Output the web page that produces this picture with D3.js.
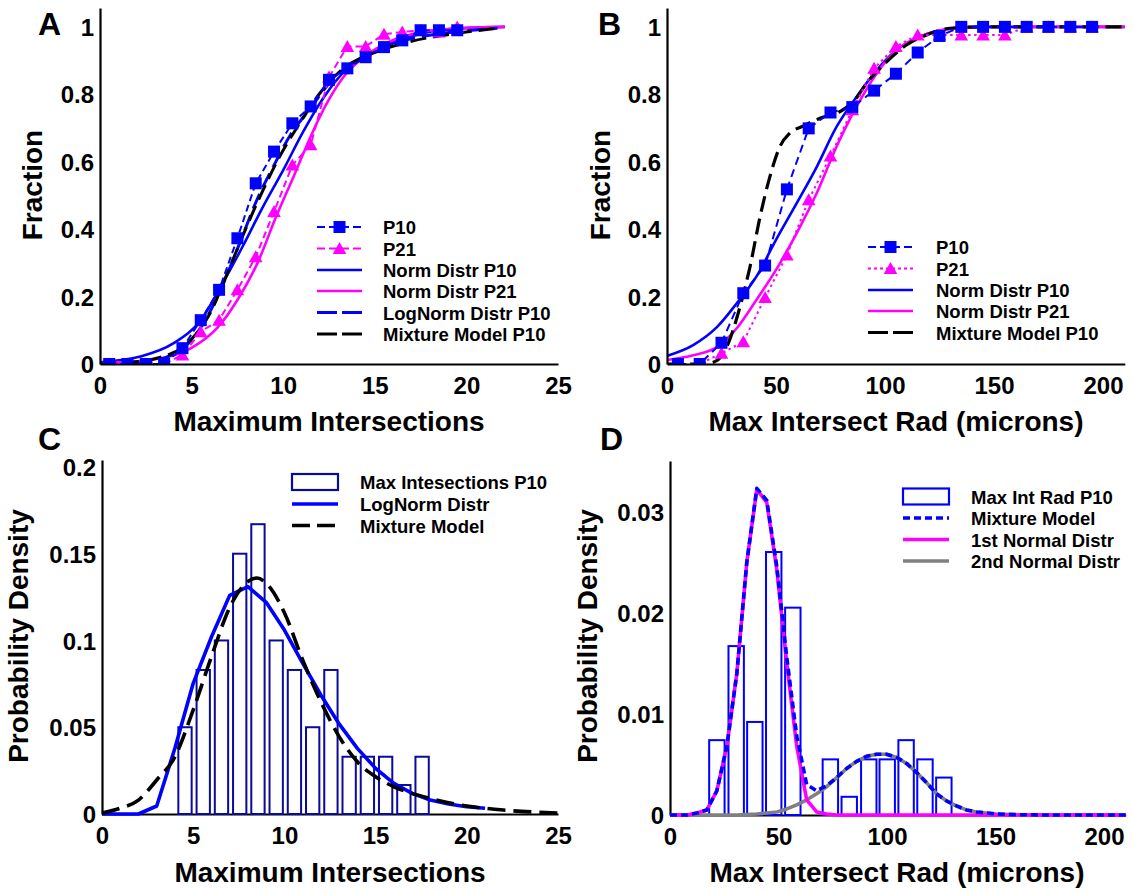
<!DOCTYPE html>
<html><head><meta charset="utf-8">
<script src="https://cdn.jsdelivr.net/npm/d3@7"></script>
<style>
body{margin:0;background:#fff}
text{font-family:"Liberation Sans",Arial,sans-serif;font-weight:bold;fill:#000}
</style>
</head><body>
<svg id="c" width="1133" height="892"></svg>
<script>
// ---------------- Panel A data ----------------
const xA_pts   = [0.5,1.5,2.5,3.5,4.5,5.5,6.5,7.5,8.5,9.5,10.5,11.5,12.5,13.5,14.5,15.5,16.5,17.5,18.5,19.5];
const yA_P10   = [0,0,0,0,0.047,0.13,0.22,0.373,0.536,0.63,0.714,0.764,0.843,0.877,0.91,0.94,0.96,0.99,0.99,0.99];
const yA_P21   = [0,0,0,0,0.027,0.096,0.13,0.22,0.318,0.452,0.59,0.65,0.851,0.942,0.942,0.978,0.985,0.99,0.985,1.0];
const xA_normP10 = [0,2.2,4.0,5.5,6.7,7.8,8.9,10.0,11.1,12.2,13.5,14.7,16.2,17.7,19.5,22.1];
const yA_normP10 = [0.005,0.022,0.061,0.13,0.24,0.35,0.467,0.575,0.69,0.79,0.877,0.922,0.958,0.982,0.995,1.0];
const xA_normP21 = [0,3.1,4.9,6.4,7.5,8.6,9.6,10.6,11.5,12.4,13.3,14.4,15.8,17.7,19.5,22.1];
const yA_normP21 = [0.002,0.015,0.045,0.107,0.19,0.30,0.435,0.56,0.675,0.775,0.852,0.91,0.956,0.986,0.996,1.0];
const xA_logn = [2.0,3.0,4.0,4.9,5.8,6.7,7.6,8.55,9.5,10.4,11.5,12.55,13.65,14.9,16.7,19.5,21.7];
const yA_logn = [0,0.008,0.03,0.065,0.135,0.235,0.355,0.485,0.59,0.68,0.76,0.835,0.887,0.927,0.961,0.986,0.996];
const xA_mix  = [0,1.5,3.1,4.9,6.0,7.1,8.0,8.9,9.8,10.9,12.0,13.3,14.9,16.9,19.5,21.7];
const yA_mix  = [0,0.004,0.017,0.068,0.15,0.289,0.407,0.516,0.615,0.714,0.803,0.877,0.922,0.956,0.981,0.996];
const xTicksA = [0,5,10,15,20,25];
const yTicksAB = [0,0.2,0.4,0.6,0.8,1];

// ---------------- Panel B data ----------------
const xB_pts  = [5,15,25,35,45,55,65,75,85,95,105,115,125,135,145,155,165,175,185,195];
const yB_P10  = [0,0,0.063,0.21,0.292,0.518,0.699,0.746,0.762,0.811,0.861,0.924,0.973,1,1,1,1,1,1,1];
const yB_P21  = [0,0,0.032,0.066,0.197,0.323,0.487,0.617,0.754,0.877,0.942,0.976,0.976,0.976,0.976,0.976,1,1,1,1];
const xB_norm = [0,12,23,32,41,50,59.5,68.7,77.8,87,96.2,105.4,116,128.3,145,210];
const yB_normP10 = [0.024,0.056,0.11,0.18,0.259,0.368,0.477,0.585,0.704,0.793,0.872,0.932,0.971,0.993,1,1];
const yB_normP21 = [0.012,0.026,0.051,0.106,0.19,0.279,0.388,0.507,0.645,0.764,0.862,0.932,0.971,0.993,1,1];
const xB_mix = [0,17,22.8,27.4,33.5,38.1,42.7,47.2,51.8,56.4,62.5,70.2,79.4,85.5,91.6,100.8,110,119.1,129.8,145,210];
const yB_mix = [0,0,0.01,0.051,0.17,0.289,0.437,0.556,0.645,0.685,0.706,0.729,0.749,0.778,0.833,0.897,0.947,0.976,0.996,1,1];
const xTicksBD = [0,50,100,150,200];

// ---------------- Panel C data ----------------
const xC_bins = [4.55,5.55,6.55,7.55,8.55,9.55,10.55,11.55,12.55,13.55,14.55,15.55,16.55,17.55];
const yC_hist = [0.05,0.083,0.1,0.15,0.167,0.1,0.083,0.05,0.083,0.033,0.033,0.033,0.0167,0.033];
const xC_logn = [0,2,3,4,5,6,7,8,9,10,11,12,13,14,15,16,17,18,19,20,21];
const yC_logn = [0,0,0.0046,0.038,0.0753,0.102,0.126,0.131,0.122,0.106,0.087,0.0686,0.0519,0.0378,0.0263,0.0177,0.0119,0.0081,0.0058,0.0042,0.0033];
const xC_mix = [0,1,2,3,4,5,6,7,8,8.5,9,10,11,12,13,14,15,16,17,18,19,20,21,22,23,24,25];
const yC_mix = [0.0005,0.0033,0.008,0.0196,0.033,0.06,0.0907,0.119,0.134,0.136,0.133,0.116,0.0888,0.0647,0.0446,0.0301,0.0215,0.0157,0.0119,0.009,0.0065,0.0046,0.0033,0.0023,0.0015,0.001,0.0006];
const xTicksC = [0,5,10,15,20,25];
const yTicksC = [0,0.05,0.1,0.15,0.2];

// ---------------- Panel D data ----------------
const xD_bins = [21.6,30.5,39.1,47.8,56.6,73.9,82.6,91.6,100.1,108.8,117.5,126.2];
const yD_hist = [0.0074,0.0167,0.0092,0.026,0.0205,0.0055,0.0018,0.0055,0.0055,0.0074,0.0055,0.0037];
const xD_curve = [0,8,12.4,17,21.6,26.2,30.8,35.4,40,44.6,49.2,53.8,58.4,63,67.6,72.2,76.8,81.4,86,90.6,95.2,99.8,104.4,109,113.6,118.2,122.8,127.4,132,136.6,141.2,145.8,150.4,160,175,190,210];
const yD_n1  = [0,0,0.0002,0.0005,0.0024,0.0068,0.014,0.025,0.0322,0.0309,0.0243,0.015,0.0068,0.0015,0.0003,0.0001,0,0,0,0,0,0,0,0,0,0,0,0,0,0,0,0,0,0,0,0,0];
const yD_n2  = [0,0,0,0,0,0,0,0.00005,0.0001,0.0002,0.0003,0.0006,0.001,0.0015,0.0021,0.0028,0.0037,0.0046,0.0053,0.0058,0.006,0.006,0.0057,0.0051,0.0042,0.0032,0.0021,0.0014,0.0009,0.0005,0.0003,0.0002,0.0001,0.00003,0,0,0];
const yD_mix = [0,0,0.0002,0.0005,0.0024,0.0068,0.014,0.025,0.0323,0.0311,0.0246,0.0156,0.0078,0.003,0.0024,0.0029,0.0037,0.0046,0.0053,0.0058,0.006,0.006,0.0057,0.0051,0.0042,0.0032,0.0021,0.0014,0.0009,0.0005,0.0003,0.0002,0.0001,0.00003,0,0,0];
const yTicksD = [0,0.01,0.02,0.03];

// ---------------- drawing ----------------
const BLUE="#0000ff", MAG="#ff00ff", NAVY="#0a0a9c", GRAY="#808080";
const svg = d3.select("#c");
const zip = (xs,ys)=>xs.map((v,i)=>[v,ys[i]]);
const fmt = d3.format("~g");

function makePanel(p){
  const x = d3.scaleLinear().domain(p.xd).range([p.left,p.right]);
  const y = d3.scaleLinear().domain(p.yd).range([p.bottom,p.top]);
  const id = "clip"+p.name;
  svg.append("clipPath").attr("id",id).append("rect")
     .attr("x",p.left).attr("y",p.top-10).attr("width",p.right-p.left+10).attr("height",p.bottom-p.top+10);
  return {x,y,id,p};
}
function drawAxes(P, xt, yt){
  const {x,y,p} = P;
  const ax = svg.append("g").attr("transform",`translate(0,${p.bottom})`)
    .call(d3.axisBottom(x).tickValues(xt).tickSize(0).tickSizeOuter(0).tickPadding(13).tickFormat(fmt));
  const ay = svg.append("g").attr("transform",`translate(${p.left},0)`)
    .call(d3.axisLeft(y).tickValues(yt).tickSize(0).tickSizeOuter(0).tickPadding(6).tickFormat(fmt));
  [ax,ay].forEach(a=>{
    a.select(".domain").attr("stroke","#000").attr("stroke-width",2.2);
    a.selectAll("text").attr("font-size",24).attr("font-family","Liberation Sans, Arial, sans-serif").attr("font-weight","bold").attr("fill","#000");
  });
  ay.selectAll("text").attr("dy","0.36em");
}
function curve(g,P,xs,ys,color,w,dash,interp){
  const line = d3.line().x(d=>P.x(d[0])).y(d=>P.y(d[1])).curve(interp||d3.curveMonotoneX);
  g.append("path").datum(zip(xs,ys)).attr("d",line).attr("fill","none")
   .attr("stroke",color).attr("stroke-width",w).attr("stroke-dasharray",dash||null)
   .attr("stroke-linejoin","round");
}
function squares(g,P,xs,ys,color){
  g.selectAll(null).data(zip(xs,ys)).join("rect")
   .attr("x",d=>P.x(d[0])-6).attr("y",d=>P.y(d[1])-6).attr("width",12).attr("height",12).attr("fill",color);
}
const triPath = "M0,-6.5L6.8,5.5L-6.8,5.5Z";
function triangles(g,P,xs,ys,color){
  g.selectAll(null).data(zip(xs,ys)).join("path")
   .attr("d",triPath).attr("transform",d=>`translate(${P.x(d[0])},${P.y(d[1])})`).attr("fill",color);
}
function label(txt,x,y,size,anchor,rot){
  const t = svg.append("text").attr("x",x).attr("y",y).attr("font-size",size).attr("text-anchor",anchor||"start").text(txt);
  if(rot) t.attr("transform",`rotate(-90,${x},${y})`);
  return t;
}
function legLine(x0,x1,y,color,w,dash){
  svg.append("line").attr("x1",x0).attr("x2",x1).attr("y1",y).attr("y2",y)
     .attr("stroke",color).attr("stroke-width",w).attr("stroke-dasharray",dash||null);
}

// ===== Panel A =====
const PA = makePanel({name:"A",xd:[0,25],yd:[0,1.056],left:100,right:558,top:8,bottom:364});
{
  const g = svg.append("g").attr("clip-path",`url(#${PA.id})`);
  curve(g,PA,xA_normP10,yA_normP10,BLUE,2.6);
  curve(g,PA,xA_normP21,yA_normP21,MAG,2.6);
  curve(g,PA,xA_logn,yA_logn,BLUE,3,"16,7");
  curve(g,PA,xA_mix,yA_mix,"#000",3,"16,7");
  curve(g,PA,xA_pts,yA_P21,MAG,2,"7,4",d3.curveLinear);
  triangles(g,PA,xA_pts,yA_P21,MAG);
  curve(g,PA,xA_pts,yA_P10,BLUE,2,"7,4",d3.curveLinear);
  squares(g,PA,xA_pts,yA_P10,BLUE);
  drawAxes(PA,xTicksA,yTicksAB);
  label("A",38,35,32);
  label("Maximum Intersections",329,431,28,"middle");
  label("Fraction",42,185,28,"middle",true);
  const lx0=317, lx1=362, tx=383, ys=[227,248.5,270,291,312.5,334];
  const names=["P10","P21","Norm Distr P10","Norm Distr P21","LogNorm Distr P10","Mixture Model P10"];
  legLine(lx0,lx1,ys[0],BLUE,2,"8,4");
  svg.append("rect").attr("x",(lx0+lx1)/2-6).attr("y",ys[0]-6).attr("width",12).attr("height",12).attr("fill",BLUE);
  legLine(lx0,lx1,ys[1],MAG,2,"8,4");
  svg.append("path").attr("d",triPath).attr("transform",`translate(${(lx0+lx1)/2},${ys[1]})`).attr("fill",MAG);
  legLine(lx0,lx1,ys[2],BLUE,2.6);
  legLine(lx0,lx1,ys[3],MAG,2.6);
  legLine(lx0,lx1,ys[4],BLUE,3.2,"20,5");
  legLine(lx0,lx1,ys[5],"#000",3.2,"20,5");
  names.forEach((n,i)=>label(n,tx,ys[i]+7,18.5));
}

// ===== Panel B =====
const PB = makePanel({name:"B",xd:[0,210],yd:[0,1.056],left:667,right:667+210*2.18,top:8,bottom:364});
{
  const g = svg.append("g").attr("clip-path",`url(#${PB.id})`);
  curve(g,PB,xB_norm,yB_normP10,BLUE,2.6);
  curve(g,PB,xB_norm,yB_normP21,MAG,2.6);
  curve(g,PB,xB_mix,yB_mix,"#000",3.2,"16,7");
  curve(g,PB,xB_pts,yB_P21,MAG,2,"2.5,3.5",d3.curveLinear);
  triangles(g,PB,xB_pts,yB_P21,MAG);
  curve(g,PB,xB_pts,yB_P10,BLUE,2,"8,5",d3.curveLinear);
  squares(g,PB,xB_pts,yB_P10,BLUE);
  drawAxes(PB,xTicksBD,yTicksAB);
  label("B",598,35,32);
  label("Max Intersect Rad (microns)",896,431,28,"middle");
  label("Fraction",610,185,28,"middle",true);
  const lx0=868, lx1=913, tx=936, ys=[247,268.5,290,311,332.5];
  const names=["P10","P21","Norm Distr P10","Norm Distr P21","Mixture Model P10"];
  legLine(lx0,lx1,ys[0],BLUE,2,"8,4");
  svg.append("rect").attr("x",(lx0+lx1)/2-6).attr("y",ys[0]-6).attr("width",12).attr("height",12).attr("fill",BLUE);
  legLine(lx0,lx1,ys[1],MAG,2,"3,3");
  svg.append("path").attr("d",triPath).attr("transform",`translate(${(lx0+lx1)/2},${ys[1]})`).attr("fill",MAG);
  legLine(lx0,lx1,ys[2],BLUE,2.6);
  legLine(lx0,lx1,ys[3],MAG,2.6);
  legLine(lx0,lx1,ys[4],"#000",3.2,"20,5");
  names.forEach((n,i)=>label(n,tx,ys[i]+7,18.5));
}

// ===== Panel C =====
const PC = makePanel({name:"C",xd:[0,25],yd:[0,0.204],left:102,right:558,top:460,bottom:814});
{
  drawAxes(PC,xTicksC,yTicksC);
  const g = svg.append("g");
  const bw = 0.73;
  g.selectAll(null).data(zip(xC_bins,yC_hist)).join("rect")
   .attr("x",d=>PC.x(d[0]-bw/2)).attr("width",PC.x(bw)-PC.x(0))
   .attr("y",d=>PC.y(d[1])).attr("height",d=>PC.y(0)-PC.y(d[1]))
   .attr("fill","none").attr("stroke",NAVY).attr("stroke-width",2);
  curve(g,PC,xC_logn,yC_logn,BLUE,3.6,null,d3.curveLinear);
  curve(g,PC,xC_mix,yC_mix,"#000",3.6,"18,8");
  label("C",38,450,32);
  label("Maximum Intersections",330,882,28,"middle");
  label("Probability Density",28,636,28,"middle",true);
  const lx0=292, lx1=338, tx=360, ys=[482,504,525.5];
  svg.append("rect").attr("x",lx0).attr("y",ys[0]-8).attr("width",lx1-lx0).attr("height",16)
     .attr("fill","none").attr("stroke",NAVY).attr("stroke-width",2.2);
  legLine(lx0,lx1,ys[1],BLUE,3.6);
  legLine(lx0,lx1,ys[2],"#000",3.6,"18,7");
  ["Max Intesections P10","LogNorm Distr","Mixture Model"].forEach((n,i)=>label(n,tx,ys[i]+7,18.5));
}

// ===== Panel D =====
const PD = makePanel({name:"D",xd:[0,210],yd:[0,0.035],left:670,right:670+210*2.17,top:461,bottom:815});
{
  drawAxes(PD,xTicksBD,yTicksD);
  const g = svg.append("g");
  const bw = 7.1;
  g.selectAll(null).data(zip(xD_bins,yD_hist)).join("rect")
   .attr("x",d=>PD.x(d[0]-bw/2)).attr("width",PD.x(bw)-PD.x(0))
   .attr("y",d=>PD.y(d[1])).attr("height",d=>PD.y(0)-PD.y(d[1]))
   .attr("fill","none").attr("stroke",BLUE).attr("stroke-width",2);
  curve(g,PD,xD_curve,yD_n2,GRAY,3.6,null,d3.curveLinear);
  curve(g,PD,xD_curve,yD_n1,MAG,3.6,null,d3.curveLinear);
  curve(g,PD,xD_curve,yD_mix,BLUE,3.6,"7,4",d3.curveLinear);
  label("D",600,450,32);
  label("Max Intersect Rad (microns)",897,882,28,"middle");
  label("Probability Density",597,636,28,"middle",true);
  const lx0=903, lx1=949, tx=971, ys=[496.5,518,539.5,561];
  svg.append("rect").attr("x",lx0).attr("y",ys[0]-8).attr("width",lx1-lx0).attr("height",16)
     .attr("fill","none").attr("stroke",BLUE).attr("stroke-width",2.2);
  legLine(lx0,lx1,ys[1],BLUE,3.6,"7,4");
  legLine(lx0,lx1,ys[2],MAG,3.6);
  legLine(lx0,lx1,ys[3],GRAY,3.6);
  ["Max Int Rad P10","Mixture Model","1st Normal Distr","2nd Normal Distr"].forEach((n,i)=>label(n,tx,ys[i]+7,18.5));
}
</script>
</body></html>
